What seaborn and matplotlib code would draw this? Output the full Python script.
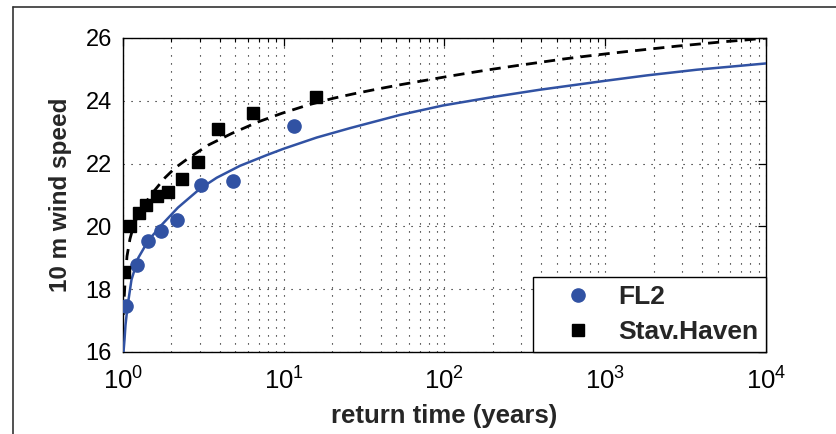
import matplotlib
matplotlib.use("Agg")
import numpy as np
import pandas as pd
import matplotlib.pyplot as plt
import seaborn as sns
from matplotlib.lines import Line2D
from matplotlib.ticker import LogLocator, FixedLocator, NullLocator, NullFormatter

# ---- data ----
fl2_T = [1.05, 1.23, 1.43, 1.72, 2.18, 3.06, 4.81, 11.6]
fl2_ws = [17.45, 18.78, 19.54, 19.86, 20.21, 21.32, 21.45, 23.20]

stav_T = [1.01, 1.11, 1.25, 1.40, 1.62, 1.91, 2.32, 2.94, 3.92, 6.46, 15.9]
stav_ws = [18.56, 20.02, 20.43, 20.68, 20.97, 21.10, 21.50, 22.06, 23.09, 23.60, 24.12]

fit_fl2_T = [1.0, 1.007, 1.022, 1.036, 1.067, 1.129, 1.245, 1.437, 1.741, 2.198,
             3.013, 3.828, 5.344, 7.832, 9.94, 16.03, 25.84, 32.8, 52.9, 97.7,
             199.5, 389.0, 977, 1820, 3715, 10000]
fit_fl2_ws = [15.9, 16.0, 16.40, 16.85, 17.45, 18.30, 19.00, 19.55, 20.05, 20.60,
              21.20, 21.55, 21.93, 22.27, 22.47, 22.83, 23.13, 23.27, 23.55, 23.85,
              24.12, 24.35, 24.63, 24.81, 24.99, 25.19]

fit_stav_T = [1.004, 1.029, 1.059, 1.105, 1.175, 1.276, 1.472, 1.825, 2.106, 2.548,
              3.394, 4.745, 6.944, 9.712, 14.22, 20.33, 27.09, 37.86, 52.9, 73.8,
              103.2, 151.1, 201.2, 281.2, 374.7, 548, 730.4, 1070, 1426, 1991,
              2783, 3886, 5426, 7586, 10000]
fit_stav_ws = [17.18, 18.20, 19.05, 19.60, 20.10, 20.45, 20.97, 21.55, 21.86, 22.17,
               22.59, 22.96, 23.33, 23.60, 23.87, 24.08, 24.22, 24.37, 24.51, 24.64,
               24.77, 24.91, 25.01, 25.12, 25.21, 25.33, 25.41, 25.51, 25.58, 25.66,
               25.74, 25.81, 25.88, 25.94, 26.0]

xticks = [1, 10, 100, 1000, 10000]
yticks = [16, 18, 20, 22, 24, 26]

BLUE = "#3152A3"

sns.set_theme(style="white")
plt.rcParams["font.family"] = ["Liberation Sans", "DejaVu Sans"]
plt.rcParams["mathtext.fontset"] = "custom"
plt.rcParams["mathtext.rm"] = "Liberation Sans"
plt.rcParams["mathtext.default"] = "regular"

fig = plt.figure(figsize=(8.37, 4.34), dpi=100)
ax = fig.add_axes([123 / 837, 1 - 352 / 434, (766 - 123) / 837, (352 - 38) / 434])

df_fl2 = pd.DataFrame({"T": fl2_T, "ws": fl2_ws})
df_stav = pd.DataFrame({"T": stav_T, "ws": stav_ws})
df_fit_fl2 = pd.DataFrame({"T": fit_fl2_T, "ws": fit_fl2_ws})
df_fit_stav = pd.DataFrame({"T": fit_stav_T, "ws": fit_stav_ws})

sns.lineplot(data=df_fit_fl2, x="T", y="ws", ax=ax, color=BLUE, lw=1.8,
             estimator=None, sort=True, zorder=3, legend=False)
sns.lineplot(data=df_fit_stav, x="T", y="ws", ax=ax, color="black", lw=2.0,
             estimator=None, sort=True, zorder=3, legend=False)
ax.lines[-1].set_dashes((4, 2.6))

ax.plot(fl2_T, fl2_ws, ls="none", marker="o", ms=9.5, color=BLUE, mec=BLUE,
        label="FL2", zorder=4)
ax.plot(stav_T, stav_ws, ls="none", marker="s", ms=9, color="black", mec="black",
        label="Stav.Haven", zorder=4)

ax.set_xscale("log")
ax.set_xlim(1, 10000)
ax.set_ylim(16, 26)
ax.xaxis.set_major_locator(FixedLocator(xticks))
ax.xaxis.set_minor_locator(LogLocator(base=10, subs=np.arange(2, 10), numticks=20))
ax.xaxis.set_minor_formatter(NullFormatter())
ax.yaxis.set_major_locator(FixedLocator(yticks))
ax.yaxis.set_minor_locator(NullLocator())

grid_kw = dict(color="black", lw=0.8, ls=(0, (1, 6.2)))
ax.grid(True, which="both", axis="x", **grid_kw)
ax.grid(True, which="major", axis="y", **grid_kw)
ax.set_axisbelow(True)

for s in ax.spines.values():
    s.set_visible(True)
    s.set_color("black")
    s.set_linewidth(1.0)

ax.tick_params(which="both", direction="in", top=True, right=True, color="black")
ax.tick_params(which="major", length=6, width=0.9)
ax.tick_params(which="minor", length=3, width=0.8)
ax.tick_params(axis="y", labelsize=17, pad=8, labelcolor="black")
ax.tick_params(axis="x", labelsize=18.5, pad=11, labelcolor="black")

ax.set_xlabel("return time (years)", fontsize=18.5, fontweight="bold", labelpad=7)
ax.set_ylabel("10 m wind speed", fontsize=17.5, fontweight="bold", labelpad=10)

leg = ax.legend(loc="lower right", bbox_to_anchor=(1, 0), borderaxespad=0,
                fancybox=False, framealpha=1, edgecolor="black",
                prop={"size": 19, "weight": "bold"}, handlelength=2.79,
                handletextpad=0.12, borderpad=0.3, labelspacing=0.42)
leg.get_frame().set_linewidth(1.0)
leg.set_zorder(10)

# outer frame lines of the original figure
fig.add_artist(Line2D([13 / 837, 1], [1 - 7 / 434, 1 - 7 / 434], color="#333333",
                      lw=1.2, transform=fig.transFigure))
fig.add_artist(Line2D([13 / 837, 13 / 837], [0, 1 - 7 / 434], color="#333333",
                      lw=1.2, transform=fig.transFigure))

fig.savefig("out.png", dpi=100)
